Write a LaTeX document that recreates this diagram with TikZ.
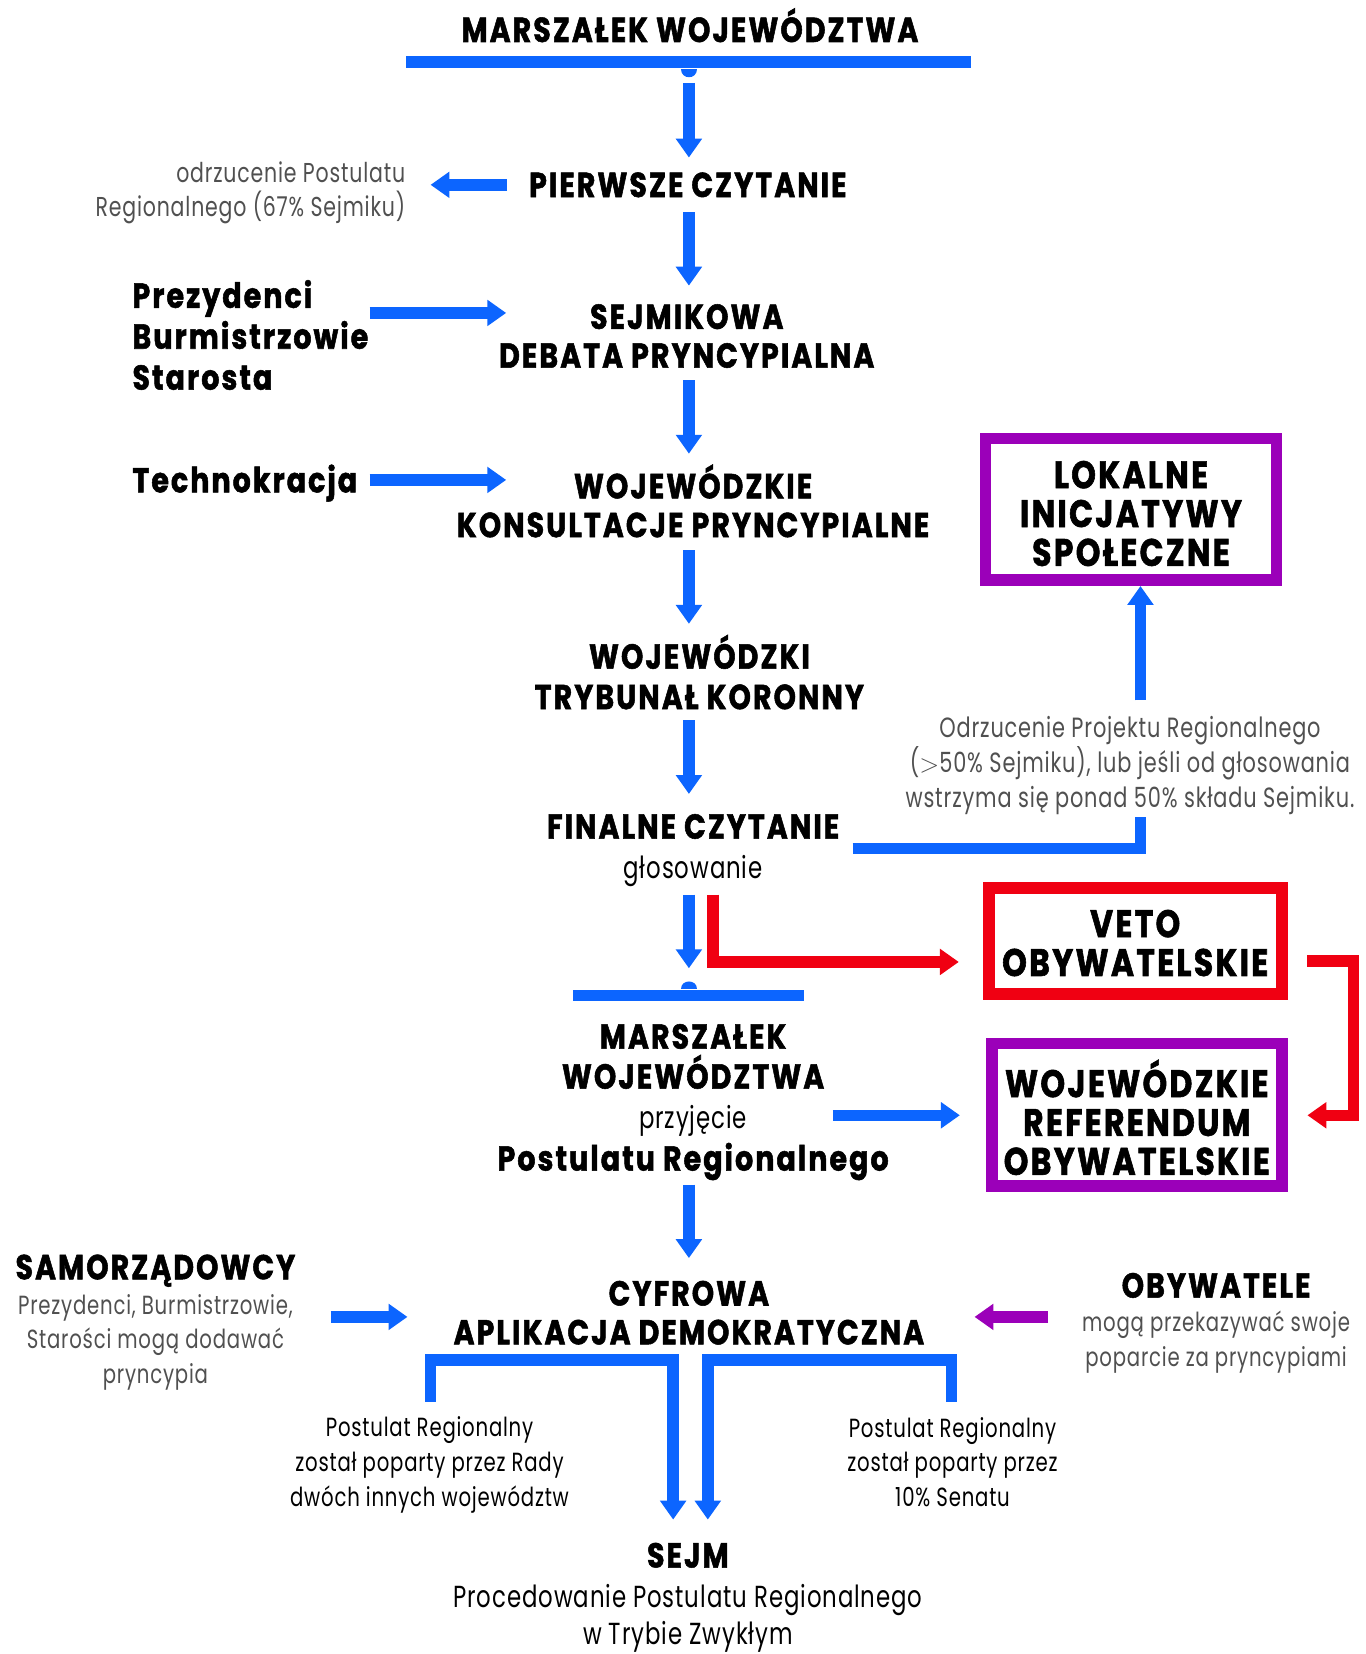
\documentclass[tikz,border=0pt]{standalone}
\usepackage{fontspec}
\usetikzlibrary{arrows.meta}
\setmainfont{Poppins}
\newfontfamily\bfnt[FakeStretch=0.82,LetterSpace=6,FakeBold=1.5]{Poppins Bold}
\newfontfamily\rfnt[FakeStretch=0.75,LetterSpace=3]{Poppins}
\definecolor{cblue}{RGB}{12,101,255}
\definecolor{cred}{RGB}{240,0,18}
\definecolor{cpurple}{RGB}{155,0,185}
\definecolor{txtgray}{RGB}{80,80,80}
\begin{document}
\begin{tikzpicture}[x=1pt,y=-1pt,
  bt/.style={font=\bfnt\fontsize{33}{37}\selectfont, align=center, inner sep=0pt},
  bxt/.style={font=\bfnt\fontsize{36.5}{37}\selectfont, align=center, inner sep=0pt},
  lt/.style={font=\rfnt\fontsize{25}{33}\selectfont, text=txtgray, align=center, inner sep=0pt},
  rt/.style={font=\rfnt\fontsize{25}{33}\selectfont, align=center, inner sep=0pt},
  arr/.style={draw=cblue, line width=11pt, -{Triangle[width=24pt,length=18pt]}},
  redarr/.style={draw=cred, line width=11pt, -{Triangle[width=24pt,length=18pt]}},
  purparr/.style={draw=cpurple, line width=11pt, -{Triangle[width=24pt,length=18pt]}},
  barline/.style={draw=cblue, line width=11pt},
  boxn/.style={draw=#1, line width=11pt, inner sep=0pt}]
\useasboundingbox[fill=white] (0,0) rectangle (1300,1575);

% title and bar
\node[bt] (t0) at (657,24) {MARSZAŁEK WOJEWÓDZTWA};
\coordinate (b1l) at (387,59); \coordinate (b1r) at (925,59);
\draw[barline] (b1l) -- (b1r);
\fill[cblue] (648,66) .. controls (648,76) and (664,76) .. (664,66) -- cycle;
\coordinate (a1s) at (656,79); \coordinate (a1e) at (656,150);
\draw[arr] (a1s) -- (a1e);

% pierwsze czytanie
\node[bt] (pc) at (655,176) {PIERWSZE CZYTANIE};
\node[lt, anchor=east, align=right, font=\rfnt\fontsize{26}{33}\selectfont] (odrz) at (386,183.5) {odrzucenie Postulatu\\Regionalnego (67\% Sejmiku)};
\coordinate (a2s) at (483,176); \coordinate (a2e) at (410,176);
\draw[arr] (a2s) -- (a2e);
\coordinate (a3s) at (656,202); \coordinate (a3e) at (656,272);
\draw[arr] (a3s) -- (a3e);

% sejmikowa debata
\node[bt] (sd) at (654,320) {SEJMIKOWA\\DEBATA PRYNCYPIALNA};
\node[bt, anchor=west, align=left, font=\bfnt\fontsize{33}{39}\selectfont] (prez) at (126,319) {Prezydenci\\Burmistrzowie\\Starosta};
\coordinate (a4s) at (352,298); \coordinate (a4e) at (482,298);
\draw[arr] (a4s) -- (a4e);
\coordinate (a5s) at (656,362); \coordinate (a5e) at (656,432);
\draw[arr] (a5s) -- (a5e);

% konsultacje
\node[bt, anchor=west] (tech) at (126,460) {Technokracja};
\coordinate (a6s) at (352,457); \coordinate (a6e) at (482,457);
\draw[arr] (a6s) -- (a6e);
\node[bt] (wk) at (660,477) {WOJEWÓDZKIE\\KONSULTACJE PRYNCYPIALNE};
\node[boxn=cpurple, minimum width=277pt, minimum height=135pt] (lok) at (1077,485) {};
\node[bxt] (lokt) at (1077,489) {LOKALNE\\INICJATYWY\\SPOŁECZNE};
\coordinate (a7s) at (656,524); \coordinate (a7e) at (656,594);
\draw[arr] (a7s) -- (a7e);

% trybunal
\node[bt, font=\bfnt\fontsize{33}{38.5}\selectfont] (tk) at (666,640) {WOJEWÓDZKI\\TRYBUNAŁ KORONNY};
\coordinate (a8s) at (656,686); \coordinate (a8e) at (656,756);
\draw[arr] (a8s) -- (a8e);
\coordinate (up1) at (1086,667);
\draw[arr] (up1) -- (lok.south -| up1);
\node[lt, font=\rfnt\fontsize{26.5}{33.5}\selectfont] (odp) at (1076,729) {Odrzucenie Projektu Regionalnego\\($>$50\% Sejmiku), lub jeśli od głosowania\\wstrzyma się ponad 50\% składu Sejmiku.};

% finalne czytanie
\node[bt] (fc) at (660,787) {FINALNE CZYTANIE};
\node[rt, font=\rfnt\fontsize{29}{33}\selectfont] (glos) at (660,829) {głosowanie};
\coordinate (l1s) at (812,808); \coordinate (l1e) at (1086,778);
\draw[barline] (l1s) -| (l1e);
\coordinate (a9s) at (656,852); \coordinate (a9e) at (656,922);
\draw[arr] (a9s) -- (a9e);
\node[boxn=cred, minimum width=279pt, minimum height=101pt] (veto) at (1081,896) {};
\node[bxt] (vetot) at (1081,898) {VETO\\OBYWATELSKIE};
\coordinate (r1s) at (679,852);
\draw[redarr] (r1s) |- ([xshift=-23pt]veto.west |- 0,916);
\fill[cblue] (648,942) .. controls (648,932) and (664,932) .. (664,942) -- cycle;
\coordinate (b2l) at (546,948); \coordinate (b2r) at (766,948);
\draw[barline] (b2l) -- (b2r);

% marszalek przyjecie
\node[bt, font=\bfnt\fontsize{33}{38}\selectfont] (mw) at (660,1006) {MARSZAŁEK\\WOJEWÓDZTWA};
\node[rt, font=\rfnt\fontsize{29}{33}\selectfont] (przyj) at (660,1067) {przyjęcie};
\node[bt] (postr) at (660,1106) {Postulatu Regionalnego};
\node[boxn=cpurple, minimum width=276pt, minimum height=136pt] (ref) at (1082.5,1061.5) {};
\node[bxt] (reft) at (1082.5,1064) {WOJEWÓDZKIE\\REFERENDUM\\OBYWATELSKIE};
\coordinate (a10s) at (793,1062);
\draw[arr] (a10s) -- ([xshift=-25pt]ref.west |- 0,1062);
\coordinate (r2s) at (1245,915); \coordinate (r2m) at (1289,1062); \coordinate (r2e) at (1245,1062);
\draw[redarr] (r2s) -| (r2m) -- (r2e);
\coordinate (a11s) at (656,1128); \coordinate (a11e) at (656,1198);
\draw[arr] (a11s) -- (a11e);

% cyfrowa
\node[bt] (cad) at (656,1250) {CYFROWA\\APLIKACJA DEMOKRATYCZNA};
\node[bt] (sam) at (148,1210) {SAMORZĄDOWCY};
\node[lt] (samt) at (148,1278) {Prezydenci, Burmistrzowie,\\Starości mogą dodawać\\pryncypia};
\coordinate (a12s) at (315,1254); \coordinate (a12e) at (388,1254);
\draw[arr] (a12s) -- (a12e);
\node[bt] (oby) at (1158,1224) {OBYWATELE};
\node[lt] (obyt) at (1158,1278) {mogą przekazywać swoje\\poparcie za pryncypiami};
\coordinate (p1s) at (998,1254); \coordinate (p1e) at (928,1254);
\draw[purparr] (p1s) -- (p1e);

% brackets
\coordinate (bl0) at (410,1335); \coordinate (bl1) at (641,1295); \coordinate (bl2) at (641,1447);
\draw[arr] (bl0) |- (bl1) -- (bl2);
\coordinate (br0) at (906,1335); \coordinate (br1) at (674,1295); \coordinate (br2) at (674,1447);
\draw[arr] (br0) |- (br1) -- (br2);
\node[rt] (lt1) at (409,1395) {Postulat Regionalny\\został poparty przez Rady\\dwóch innych województw};
\node[rt] (rt1) at (907,1392) {Postulat Regionalny\\został poparty przez\\10\% Senatu};

% sejm
\node[bt] (sejm) at (655,1481) {SEJM};
\node[rt, font=\rfnt\fontsize{29}{36}\selectfont] (proc) at (655,1541) {Procedowanie Postulatu Regionalnego\\w Trybie Zwykłym};
\end{tikzpicture}
\end{document}
